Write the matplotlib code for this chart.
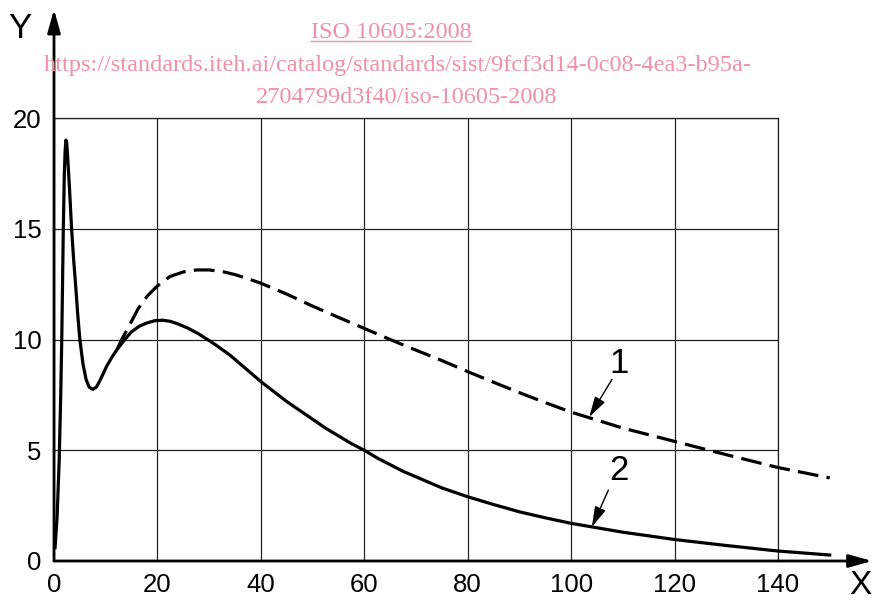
import numpy as np
import matplotlib
matplotlib.use("Agg")
from matplotlib import pyplot as plt
from matplotlib.lines import Line2D

plt.rcParams['font.family'] = ['Liberation Sans', 'DejaVu Sans']

# curve 2 (solid)
x2 = [0.2, 0.6, 1.0, 1.3, 1.5, 1.8, 2.0, 2.15, 2.3, 2.45, 2.6, 2.8, 3.0, 3.4, 3.8, 4.2, 4.6, 5.0,
      5.6, 6.2, 6.8, 7.5, 8.2, 9.0, 10.2, 11.2, 12.2, 13.7, 15, 16.5, 18, 19.5, 21, 22.5, 24, 26, 28,
      31, 34, 37, 40, 42.5, 45, 47.5, 50, 52.5, 55, 57.5, 60, 62.5, 65, 67.5, 70, 72.5, 75, 77.5, 80,
      85, 90, 95, 100, 105, 110, 120, 130, 140, 150]
y2 = [0.6, 2.0, 4.5, 7.5, 10.0, 15.0, 17.5, 18.5, 19.0, 18.9, 18.4, 17.6, 16.8, 15.0, 13.6, 12.4, 11.1, 10.0,
      8.9, 8.2, 7.85, 7.75, 7.85, 8.2, 8.8, 9.2, 9.55, 10.0, 10.35, 10.6, 10.75, 10.85, 10.87, 10.82, 10.7, 10.5, 10.25,
      9.8, 9.3, 8.7, 8.1, 7.65, 7.2, 6.8, 6.4, 6.0, 5.65, 5.3, 5.0, 4.65, 4.35, 4.05, 3.8, 3.55, 3.3, 3.1, 2.9,
      2.55, 2.22, 1.95, 1.7, 1.5, 1.3, 0.97, 0.7, 0.45, 0.27]

# curve 1 (dashed)
x1 = [12.2, 13.1, 14.5, 16.3, 18, 19.9, 22.4, 25, 27.6, 30, 32.7, 35, 37.3, 40, 45, 49.5,
      55, 60, 65, 70.2, 75, 80, 85, 90, 95, 100, 110, 120, 130, 140, 150]
y1 = [9.55, 10.0, 10.6, 11.4, 11.95, 12.4, 12.84, 13.05, 13.14, 13.14, 13.06, 12.93, 12.76, 12.54, 12.05, 11.56,
      11.0, 10.5, 10.0, 9.5, 9.05, 8.55, 8.07, 7.6, 7.15, 6.72, 6.0, 5.4, 4.8, 4.22, 3.75]

xticks = [0, 20, 40, 60, 80, 100, 120, 140]
yticks = [0, 5, 10, 15, 20]

fig = plt.figure(figsize=(8.74, 6.02), dpi=100)
ax = fig.add_axes([54 / 874, 41 / 602, 724 / 874, 443 / 602])

ax.plot(x2, y2, color='black', lw=2.3, clip_on=False, zorder=5)
ax.plot(x1, y1, color='black', lw=2.3, clip_on=False, dashes=(6.5, 2.6), zorder=5)

ax.set_xlim(0, 140)
ax.set_ylim(0, 20)
ax.set_xticks(xticks)
ax.set_yticks(yticks)
ax.tick_params(length=0, labelsize=18.5, colors='black')
ax.tick_params(axis='x', pad=9)
ax.tick_params(axis='y', pad=9)
ax.grid(True, color='#222222', lw=0.9)

for s in ['top', 'right']:
    ax.spines[s].set_color('#222222')
    ax.spines[s].set_linewidth(0.9)
for s in ['left', 'bottom']:
    ax.spines[s].set_visible(False)

# axis arrows
head = '-|>,head_length=1.0,head_width=0.28'
ax.annotate('', xy=(1.13, 0), xytext=(0, 0), xycoords='axes fraction', textcoords='axes fraction',
            arrowprops=dict(arrowstyle=head, mutation_scale=14, lw=2, color='black',
                            shrinkA=0, shrinkB=0), annotation_clip=False)
ax.annotate('', xy=(0, 1.245), xytext=(0, 0), xycoords='axes fraction', textcoords='axes fraction',
            arrowprops=dict(arrowstyle=head, mutation_scale=14, lw=2, color='black',
                            shrinkA=0, shrinkB=0), annotation_clip=False)
fig.text(860 / 874, 1 - 585 / 602, 'X', fontsize=24, ha='center', va='center')
fig.text(20 / 874, 1 - 29 / 602, 'Y', fontsize=25, ha='center', va='center')

# curve labels
small = '-|>,head_length=0.9,head_width=0.25'
ax.annotate('', xy=(103.5, 6.5), xytext=(107.9, 8.2),
            arrowprops=dict(arrowstyle=small, mutation_scale=14, lw=1, color='black',
                            shrinkA=0, shrinkB=0), annotation_clip=False)
ax.text(109.3, 8.9, '1', fontsize=25, ha='center', va='center')
ax.annotate('', xy=(104, 1.53), xytext=(107.2, 3.2),
            arrowprops=dict(arrowstyle=small, mutation_scale=14, lw=1, color='black',
                            shrinkA=0, shrinkB=0), annotation_clip=False)
ax.text(109.3, 4.1, '2', fontsize=25, ha='center', va='center')

# watermark
pink = '#f090aa'
fig.text(391 / 874, 1 - 38 / 602, 'ISO 10605:2008', fontsize=17.5, color=pink,
         family='Liberation Serif', ha='center', va='baseline')
fig.add_artist(Line2D([311 / 874, 471 / 874], [1 - 41 / 602, 1 - 41 / 602], color=pink, lw=1))
fig.text(398 / 874, 1 - 71 / 602,
         'https://standards.iteh.ai/catalog/standards/sist/9fcf3d14-0c08-4ea3-b95a-',
         fontsize=17.5, color=pink, family='Liberation Serif', ha='center', va='baseline')
fig.text(407 / 874, 1 - 103 / 602, '2704799d3f40/iso-10605-2008', fontsize=17.5, color=pink,
         family='Liberation Serif', ha='center', va='baseline')

fig.savefig('out.png', dpi=100)
